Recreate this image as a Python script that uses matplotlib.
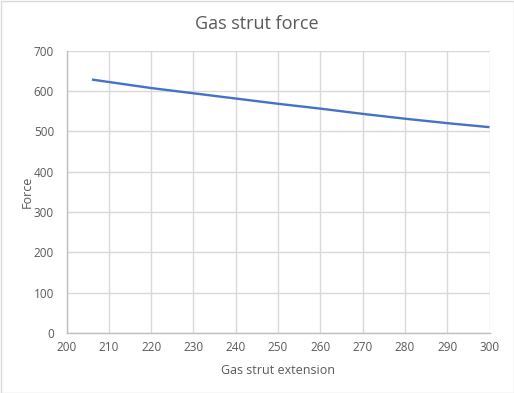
import matplotlib.pyplot as plt
from matplotlib.patches import Rectangle

# data
extension = [206, 210, 220, 230, 240, 250, 260, 270, 280, 290, 300]
force = [628, 622, 607, 594, 581, 568, 556, 543, 531, 520, 510]

plt.rcParams['font.family'] = ['Open Sans', 'DejaVu Sans']
txt = '#595959'

fig = plt.figure(figsize=(5.14, 3.93), dpi=100)
ax = fig.add_axes([66.5 / 514, 60 / 393, 423 / 514, 282.5 / 393])

ax.plot(extension, force, color='#4472C4', linewidth=1.7, solid_capstyle='butt')

ax.set_xlim(200, 300)
ax.set_ylim(0, 700)
ax.set_xticks(range(200, 301, 10))
ax.set_yticks(range(0, 701, 100))
ax.grid(True, color='#D9D9D9', linewidth=1.0)
ax.set_axisbelow(True)
for s in ['top', 'right']:
    ax.spines[s].set_visible(False)
for s in ['left', 'bottom']:
    ax.spines[s].set_color('#BFBFBF')
    ax.spines[s].set_linewidth(1.0)
ax.tick_params(length=0, labelsize=8.5, labelcolor=txt, pad=6)
ax.tick_params(axis='y', pad=9)

ax.set_xlabel('Gas strut extension', fontsize=9, color=txt, labelpad=7)
ax.set_ylabel('Force', fontsize=9, color=txt, labelpad=0)
fig.text(257 / 514, 1 - 24 / 393, 'Gas strut force', ha='center', va='center',
         fontsize=13, color=txt)

fig.patches.append(Rectangle((0.5 / 514, 0.5 / 393), 513 / 514, 392 / 393,
                             transform=fig.transFigure, fill=False,
                             edgecolor='#D9D9D9', linewidth=1.0))

fig.savefig('out.png', dpi=100)
